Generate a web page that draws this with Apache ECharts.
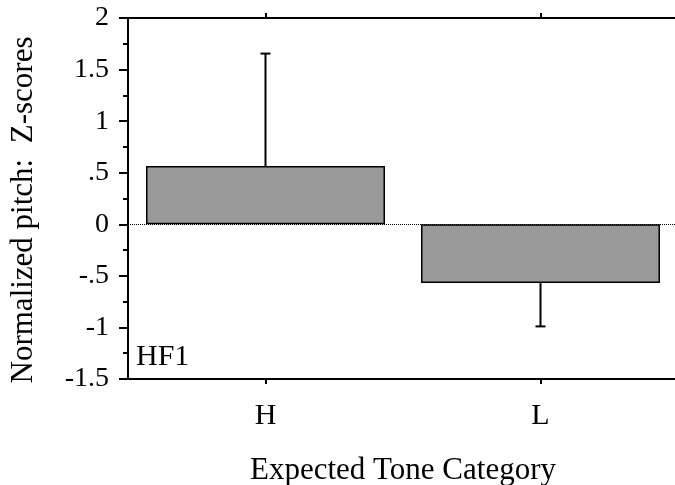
<!DOCTYPE html>
<html>
<head>
<meta charset="utf-8">
<script src="https://cdn.jsdelivr.net/npm/echarts@6/dist/echarts.min.js"></script>
<style>
  html, body { margin: 0; padding: 0; background: #fff; }
  #chart { width: 675px; height: 485px; }
</style>
</head>
<body>
<div id="chart"></div>
<script>
// Mean normalized pitch per expected tone category, with one-sided error bars
const categories = ['H', 'L'];
const means = [0.565, -0.57];
const errors = [1.09, 0.42];
const yTicks = { min: -1.5, max: 2, step: 0.5 };
const panelLabel = 'HF1';
const xTitle = 'Expected Tone Category';
const yTitle = 'Normalized pitch:  Z-scores';

const FONT = '"Liberation Serif", "Times New Roman", serif';

const chart = echarts.init(document.getElementById('chart'), null, { renderer: 'canvas' });

// Error bar extends away from zero: upward for positive means, downward for negative
const errorData = means.map((m, i) => [i, m, m >= 0 ? m + errors[i] : m - errors[i]]);

const fmtTick = v => String(v).replace('0.', '.');

chart.setOption({
  animation: false,
  backgroundColor: '#ffffff',
  grid: {
    left: 128, top: 18, bottom: 106, width: 550,
    containLabel: false,
    outerBoundsMode: 'none'
  },
  xAxis: [
    {
      type: 'category',
      data: categories,
      position: 'bottom',
      boundaryGap: true,
      axisLine: { show: true, onZero: false, lineStyle: { color: '#000', width: 2 } },
      axisTick: { show: true, alignWithLabel: true, length: 5, lineStyle: { color: '#000', width: 2 } },
      axisLabel: { color: '#000', fontFamily: FONT, fontSize: 30, margin: 22 },
      name: xTitle,
      nameLocation: 'middle',
      nameGap: 76,
      nameTextStyle: { color: '#000', fontFamily: FONT, fontSize: 31 }
    },
    {
      type: 'category',
      data: categories,
      position: 'top',
      boundaryGap: true,
      axisLine: { show: true, onZero: false, lineStyle: { color: '#000', width: 2 } },
      axisTick: { show: true, alignWithLabel: true, length: 5, lineStyle: { color: '#000', width: 2 } },
      axisLabel: { show: false }
    }
  ],
  yAxis: {
    type: 'value',
    min: yTicks.min,
    max: yTicks.max,
    interval: yTicks.step,
    splitLine: { show: false },
    axisLine: { show: true, lineStyle: { color: '#000', width: 2 } },
    axisTick: { show: true, length: 9, lineStyle: { color: '#000', width: 2 } },
    minorTick: { show: true, splitNumber: 2, length: 5, lineStyle: { color: '#000', width: 2 } },
    axisLabel: { color: '#000', fontFamily: FONT, fontSize: 28, margin: 19, formatter: fmtTick }
  },
  series: [
    {
      type: 'bar',
      data: means,
      barWidth: 239,
      itemStyle: { color: '#999999', borderColor: '#000', borderWidth: 1.5 },
      markLine: {
        silent: true,
        symbol: 'none',
        label: { show: false },
        lineStyle: { color: '#000', type: 'dotted', width: 1 },
        data: [{ yAxis: 0 }]
      },
      z: 2
    },
    {
      type: 'custom',
      data: errorData,
      renderItem: function (params, api) {
        const base = api.coord([api.value(0), api.value(1)]);
        const end = api.coord([api.value(0), api.value(2)]);
        const half = 5;
        const style = { stroke: '#000', lineWidth: 2 };
        return {
          type: 'group',
          children: [
            { type: 'line', shape: { x1: base[0], y1: base[1], x2: end[0], y2: end[1] }, style: style },
            { type: 'line', shape: { x1: end[0] - half, y1: end[1], x2: end[0] + half, y2: end[1] }, style: style }
          ]
        };
      },
      z: 3
    }
  ],
  graphic: [
    {
      type: 'text',
      x: 24,
      y: 210,
      rotation: Math.PI / 2,
      style: { text: yTitle, fill: '#000', font: '31px ' + FONT, align: 'center', verticalAlign: 'middle' }
    },
    {
      type: 'text',
      left: 136,
      top: 342,
      style: { text: panelLabel, fill: '#000', font: '30px ' + FONT }
    }
  ]
});
</script>
</body>
</html>
